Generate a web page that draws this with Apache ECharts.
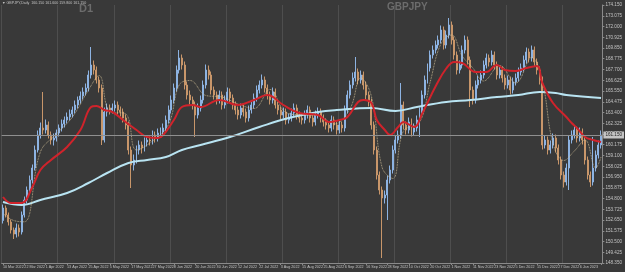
<!DOCTYPE html>
<html>
<head>
<meta charset="utf-8">
<script src="https://cdn.jsdelivr.net/npm/echarts/dist/echarts.min.js"></script>
<style>
  html, body { margin: 0; padding: 0; background: #393939; }
  #chart { width: 625px; height: 272px; }
</style>
</head>
<body>
<div id="chart"></div>
<script>
// GBPJPY daily candles (one per trading day)
const opens = [
  152.60,153.85,153.15,152.45,151.65,151.25,151.85,151.45,153.15,154.65,
  155.65,156.65,157.85,159.65,161.15,161.85,161.65,162.15,161.15,160.65,
  160.85,161.35,161.85,162.25,162.65,162.95,163.25,163.65,164.15,164.65,
  165.05,165.45,165.85,167.15,168.15,167.65,166.65,165.85,160.65,163.45,
  163.85,163.65,163.85,164.15,163.65,163.45,162.85,162.15,159.65,158.15,
  158.65,159.65,160.15,159.85,160.45,160.65,160.55,161.15,160.85,161.35,
  161.45,161.85,162.65,163.65,164.65,165.85,167.65,168.85,168.15,166.15,
  165.15,164.65,164.15,163.15,163.85,164.65,166.15,167.65,167.15,165.65,
  165.15,164.65,165.15,164.15,164.65,165.45,164.85,164.15,163.65,163.15,
  163.85,163.45,162.85,163.65,164.15,164.85,165.65,166.15,166.65,165.85,
  165.15,164.65,165.45,164.15,163.65,163.15,163.45,162.65,162.85,163.35,
  163.85,163.15,162.85,162.65,163.15,163.65,162.85,162.45,163.15,163.45,
  162.85,162.45,162.15,161.85,162.65,162.15,161.65,162.15,161.85,163.65,
  165.15,166.15,166.85,167.45,166.65,167.15,166.15,165.15,164.45,162.15,
  159.65,157.15,155.65,154.85,155.15,156.65,157.65,159.65,160.65,161.15,
  164.15,162.15,161.65,162.45,161.45,161.85,162.65,163.45,165.15,166.65,
  167.85,169.15,169.65,170.15,170.65,171.65,170.15,171.15,172.15,170.65,
  169.15,167.65,168.15,169.65,170.65,168.65,165.65,164.65,166.15,166.65,
  167.15,168.15,168.85,168.45,169.15,168.15,167.15,167.65,166.85,166.15,
  166.65,165.65,166.45,166.85,167.45,167.85,168.65,169.45,168.85,169.65,
  168.45,167.65,166.65,160.15,160.65,159.65,160.15,160.85,159.85,158.65,
  157.15,156.45,157.85,160.65,161.15,161.65,160.85,161.45,160.65,158.65,
  157.15,156.45,157.85,159.15,160.15
];
const closes = [
  153.85,153.15,152.45,151.65,151.25,151.85,151.45,153.15,154.65,155.65,
  156.65,157.85,159.65,161.15,161.85,161.65,162.15,161.15,160.65,160.85,
  161.35,161.85,162.25,162.65,162.95,163.25,163.65,164.15,164.65,165.05,
  165.45,165.85,167.15,168.15,167.65,166.65,165.85,160.65,163.45,163.85,
  163.65,163.85,164.15,163.65,163.45,162.85,162.15,159.65,158.15,158.65,
  159.65,160.15,159.85,160.45,160.65,160.55,161.15,160.85,161.35,161.45,
  161.85,162.65,163.65,164.65,165.85,167.65,168.85,168.15,166.15,165.15,
  164.65,164.15,163.15,163.85,164.65,166.15,167.65,167.15,165.65,165.15,
  164.65,165.15,164.15,164.65,165.45,164.85,164.15,163.65,163.15,163.85,
  163.45,162.85,163.65,164.15,164.85,165.65,166.15,166.65,165.85,165.15,
  164.65,165.45,164.15,163.65,163.15,163.45,162.65,162.85,163.35,163.85,
  163.15,162.85,162.65,163.15,163.65,162.85,162.45,163.15,163.45,162.85,
  162.45,162.15,161.85,162.65,162.15,161.65,162.15,161.85,163.65,165.15,
  166.15,166.85,167.45,166.65,167.15,166.15,165.15,164.45,162.15,159.65,
  157.15,155.65,154.85,155.15,156.65,157.65,159.65,160.65,161.15,164.15,
  162.15,161.65,162.45,161.45,161.85,162.65,163.45,165.15,166.65,167.85,
  169.15,169.65,170.15,170.65,171.65,170.15,171.15,172.15,170.65,169.15,
  167.65,168.15,169.65,170.65,168.65,165.65,164.65,166.15,166.65,167.15,
  168.15,168.85,168.45,169.15,168.15,167.15,167.65,166.85,166.15,166.65,
  165.65,166.45,166.85,167.45,167.85,168.65,169.45,168.85,169.65,168.45,
  167.65,166.65,160.15,160.65,159.65,160.15,160.85,159.85,158.65,157.15,
  156.45,157.85,160.65,161.15,161.65,160.85,161.45,160.65,158.65,157.15,
  156.45,157.85,159.15,160.15,161.15
];
const highs = [
  154.20,154.10,153.40,152.70,151.90,152.30,152.20,153.50,155.00,156.00,
  157.10,158.20,160.10,161.60,162.40,165.45,162.70,162.50,161.50,161.30,
  161.70,162.20,162.70,163.00,163.40,163.70,164.00,164.60,165.00,165.50,
  165.90,166.30,167.60,169.95,168.60,168.00,167.00,166.20,163.90,164.30,
  164.20,164.30,164.60,164.50,164.00,163.80,163.20,162.50,160.00,159.20,
  160.10,160.60,160.50,160.90,161.10,161.00,161.60,161.50,161.80,161.90,
  162.30,163.10,164.10,165.10,166.30,168.10,169.65,169.20,168.50,166.50,
  165.60,165.00,164.50,164.30,165.10,166.60,168.20,168.10,167.50,166.00,
  165.50,165.60,165.50,165.10,165.90,165.80,165.20,164.50,164.00,164.30,
  164.20,163.80,164.10,164.60,165.30,166.10,166.60,167.20,167.00,166.20,
  165.50,165.90,165.80,164.50,164.00,163.90,163.80,163.30,163.80,164.30,
  164.20,163.50,163.20,163.60,164.10,164.00,163.20,163.60,163.90,163.80,
  163.20,162.80,162.50,163.10,163.00,162.50,162.60,162.50,164.10,165.60,
  166.60,167.40,168.95,167.80,167.60,167.50,166.50,165.50,164.80,162.50,
  160.00,157.50,156.00,155.60,157.10,158.10,160.10,161.10,161.60,166.35,
  164.50,162.50,162.90,162.80,162.30,163.10,163.90,165.60,167.10,168.30,
  169.60,170.10,170.60,171.10,172.10,172.00,171.60,172.85,172.50,171.00,
  169.50,168.60,170.10,171.10,171.00,169.00,166.00,166.60,167.10,167.60,
  168.60,169.30,169.20,169.60,169.50,168.50,168.10,168.00,167.20,167.10,
  167.00,166.90,167.30,167.90,168.30,169.10,169.90,169.80,170.10,170.00,
  168.80,168.00,167.00,161.10,161.00,160.60,161.30,161.20,160.20,159.00,
  157.50,158.30,161.10,161.60,162.10,162.00,161.90,161.80,161.00,159.00,
  157.50,160.95,159.60,160.60,161.60
];
const lows = [
  152.30,152.90,152.10,151.30,150.75,150.90,151.00,151.20,152.90,154.30,
  155.40,156.30,157.60,159.40,160.80,161.20,161.30,160.80,160.20,160.10,
  160.50,161.00,161.50,161.90,162.30,162.60,162.90,163.30,163.80,164.30,
  164.70,165.10,165.50,166.80,167.20,166.30,165.40,160.15,160.40,163.00,
  163.20,163.30,163.50,163.20,163.00,162.40,161.70,159.20,155.85,157.60,
  158.30,159.20,159.30,159.50,160.00,160.10,160.20,160.40,160.50,160.90,
  161.10,161.50,162.30,163.30,164.30,165.50,167.30,167.70,165.70,164.70,
  164.20,163.70,160.95,162.80,163.50,164.30,165.80,166.70,165.20,164.70,
  164.20,164.30,163.70,163.80,164.30,164.40,163.70,163.20,162.70,162.80,
  163.00,162.40,162.50,163.30,163.80,164.50,165.30,165.80,165.40,164.70,
  164.20,164.30,163.80,163.20,162.70,162.80,162.20,162.30,162.50,163.00,
  162.70,162.40,162.20,162.30,162.80,162.40,162.00,162.10,162.80,162.40,
  162.00,161.70,161.40,161.50,161.70,161.20,161.30,161.40,161.50,163.30,
  164.80,165.80,166.50,166.20,166.30,165.70,164.70,164.00,161.70,159.20,
  156.70,155.20,148.85,154.30,152.65,156.30,157.30,159.30,160.30,160.80,
  161.70,161.20,161.30,161.00,161.10,161.50,160.95,163.10,164.80,166.30,
  167.50,168.80,169.30,169.80,170.30,169.70,169.80,170.80,170.20,168.70,
  167.20,167.30,167.80,169.30,168.20,163.95,164.20,164.30,165.80,166.30,
  166.80,167.80,168.00,168.10,167.70,166.70,166.80,166.40,165.70,165.80,
  165.20,165.30,166.10,166.50,167.10,167.50,168.30,168.40,168.50,168.00,
  167.20,166.20,159.70,159.80,159.20,159.30,159.80,159.40,158.20,156.70,
  155.90,156.10,155.65,160.30,160.80,160.40,160.50,160.20,158.20,156.70,
  155.95,156.10,157.50,158.80,159.80
];

// moving averages, read at points along each line: [bar index, price]
const slowMa = [
  [0,154.45],[7,154.15],[14,154.65],[24,155.35],[32,156.35],[39,157.35],[47,158.35],
  [54,158.65],[61,158.95],[67,159.65],[74,160.15],[85,160.95],[96,161.95],[107,162.85],
  [118,163.45],[125,163.65],[138,163.85],[147,163.55],[155,163.95],[166,164.45],
  [175,164.65],[185,164.95],[193,165.15],[201,165.45],[207,165.35],[211,165.15],[224,164.85]
];
const midMa = [
  [0,154.95],[3,154.35],[7,154.35],[11,155.95],[14,157.65],[18,158.65],[24,159.95],
  [29,161.65],[33,163.95],[35,164.05],[38,163.65],[41,163.45],[45,162.65],[50,161.65],
  [54,160.95],[58,160.85],[60,161.15],[64,162.65],[67,163.95],[71,164.15],[74,163.95],
  [81,164.65],[88,164.15],[94,164.65],[99,165.15],[105,164.15],[111,163.35],[118,163.15],
  [122,162.45],[126,162.65],[129,162.95],[133,164.45],[135,164.65],[138,164.35],
  [140,162.65],[143,161.65],[145,161.15],[148,161.95],[150,162.45],[154,161.95],
  [157,163.30],[162,166.00],[166,167.80],[169,168.45],[172,168.35],[177,167.45],
  [181,167.45],[185,168.15],[188,167.65],[192,167.55],[196,167.85],[200,168.05],
  [202,166.35],[206,164.35],[211,162.95],[213,162.35],[215,161.85],[218,160.95],
  [221,160.65],[224,160.45]
];
const fastMa = [
  [0,153.30],[4,152.60],[8,152.47],[14,159.45],[20,161.25],[26,162.95],[32,165.65],
  [36,167.10],[40,163.50],[46,163.25],[50,159.65],[56,160.55],[62,162.20],[66,166.15],
  [70,166.60],[76,165.10],[82,164.95],[88,164.25],[94,163.80],[100,165.70],[106,163.40],
  [112,163.15],[118,163.10],[124,162.25],[130,163.80],[134,166.85],[138,165.00],
  [142,157.90],[146,156.80],[150,161.55],[156,162.40],[160,166.45],[164,170.25],
  [168,171.15],[172,169.05],[176,167.85],[180,166.55],[186,168.10],[192,166.35],
  [198,168.90],[202,166.50],[206,160.30],[210,158.60],[214,159.55],[218,160.65],
  [222,157.85],[224,158.95]
];

// date labels, one every 8 bars
const tickLabels = [
  "10 Mar 2022","22 Mar 2022","1 Apr 2022","13 Apr 2022","25 Apr 2022","5 May 2022",
  "17 May 2022","27 May 2022","8 Jun 2022","20 Jun 2022","30 Jun 2022","12 Jul 2022",
  "22 Jul 2022","3 Aug 2022","15 Aug 2022","25 Aug 2022","6 Sep 2022","16 Sep 2022",
  "28 Sep 2022","10 Oct 2022","20 Oct 2022","1 Nov 2022","11 Nov 2022","23 Nov 2022",
  "5 Dec 2022","15 Dec 2022","27 Dec 2022","6 Jan 2023"
];
const symbol = "GBPJPY";
const period = "D1";
const bid = 161.15;

const categories = closes.map((_, i) => String(i));
const candles = closes.map((c, i) => [opens[i], c, lows[i], highs[i]]);
const last = candles.length - 1;

const chart = echarts.init(document.getElementById("chart"));

const axisColor = "#8a8a8a";
const labelColor = "#c4c4c4";
const tinyFont = "Liberation Sans, Arial, sans-serif";

chart.setOption({
  animation: false,
  backgroundColor: "#393939",
  grid: { left: 0, right: 18, top: 5, bottom: 9 },
  graphic: [
    {
      type: "text", left: 2, top: 1, z: 0,
      style: {
        text: "\u25BC " + symbol + ",Daily  " + opens[last].toFixed(3) + " " + highs[last].toFixed(3) +
              " " + lows[last].toFixed(3) + " " + closes[last].toFixed(3),
        fill: labelColor, font: "3.6px 'Liberation Sans', Arial, sans-serif"
      }
    },
    {
      type: "text", left: 79, top: 3, z: 0,
      style: { text: period, fill: "#6c6c6c", font: "bold 11px 'Liberation Sans', Arial, sans-serif" }
    },
    {
      type: "text", left: 387, top: 2, z: 0,
      style: { text: symbol, fill: "#6c6c6c", font: "bold 10px 'Liberation Sans', Arial, sans-serif" }
    }
  ],
  xAxis: {
    type: "category",
    data: categories,
    boundaryGap: true,
    axisLine: { show: true, lineStyle: { color: axisColor, width: 1 } },
    axisTick: { show: true, interval: 7, length: 2, alignWithLabel: true, lineStyle: { color: axisColor } },
    axisLabel: {
      interval: 7,
      fontSize: 3.7,
      color: labelColor,
      align: "left",
      margin: 2,
      showMinLabel: true,
      hideOverlap: false,
      fontFamily: tinyFont,
      formatter: (v, idx) => tickLabels[idx / 8] || ""
    },
    splitLine: { show: true, interval: 20, lineStyle: { color: "#4e4e4e", width: 1 } }
  },
  yAxis: {
    type: "value",
    position: "right",
    scale: true,
    min: 148.35,
    max: 174.15,
    interval: 1.075,
    axisLine: { show: true, lineStyle: { color: axisColor, width: 1 } },
    axisTick: { show: true, length: 2, lineStyle: { color: axisColor } },
    axisLabel: {
      fontSize: 4.6,
      color: labelColor,
      margin: 3,
      fontFamily: tinyFont,
      formatter: (v) => v.toFixed(3)
    },
    splitLine: { show: false }
  },
  series: [
    {
      name: symbol,
      type: "candlestick",
      data: candles,
      barWidth: "55%",
      z: 2,
      itemStyle: {
        color: "#8db3e2",
        color0: "#c8966a",
        borderColor: "#8db3e2",
        borderColor0: "#c8966a",
        borderWidth: 1
      },
      markLine: {
        silent: true,
        symbol: ["none", "none"],
        lineStyle: { color: "#8f8f8f", width: 1, type: "solid" },
        label: {
          position: "end",
          distance: 1,
          fontSize: 4.6,
          fontFamily: tinyFont,
          color: "#1e1e1e",
          backgroundColor: "#c4c4c4",
          padding: [1, 2],
          formatter: () => bid.toFixed(3)
        },
        data: [{ yAxis: bid }]
      }
    },
    {
      name: "slow",
      type: "line",
      data: slowMa,
      smooth: 0.4,
      showSymbol: false,
      z: 3,
      lineStyle: { color: "#b9e4f2", width: 2 }
    },
    {
      name: "mid",
      type: "line",
      data: midMa,
      smooth: 0.4,
      showSymbol: false,
      z: 4,
      lineStyle: { color: "#d0232b", width: 2 }
    },
    {
      name: "fast",
      type: "line",
      data: fastMa,
      smooth: 0.4,
      showSymbol: false,
      z: 3,
      lineStyle: { color: "#d8c59a", width: 0.8, type: "dotted" }
    }
  ]
});
</script>
</body>
</html>
